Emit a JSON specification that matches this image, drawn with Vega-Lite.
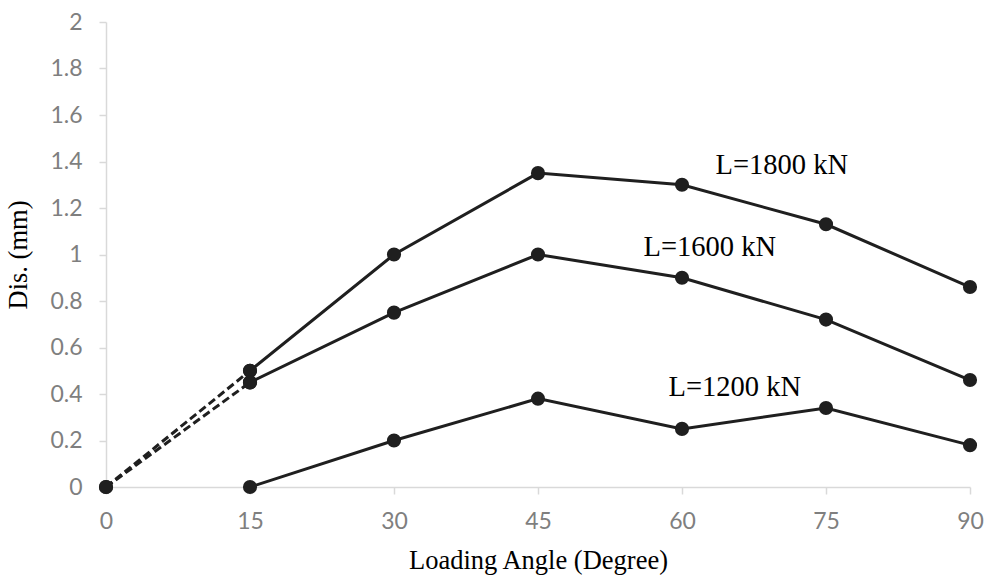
{
  "$schema": "https://vega.github.io/schema/vega-lite/v6.json",
  "width": 864,
  "height": 465,
  "autosize": "none",
  "padding": {"left": 106, "top": 22, "right": 19, "bottom": 90},
  "background": "white",
  "config": {"view": {"stroke": null}},
  "datasets": {
    "lines": [
      {"load": "1800", "part": "solid", "angle": 15, "dis": 0.5},
      {"load": "1800", "part": "solid", "angle": 30, "dis": 1.0},
      {"load": "1800", "part": "solid", "angle": 45, "dis": 1.35},
      {"load": "1800", "part": "solid", "angle": 60, "dis": 1.3},
      {"load": "1800", "part": "solid", "angle": 75, "dis": 1.13},
      {"load": "1800", "part": "solid", "angle": 90, "dis": 0.86},
      {"load": "1600", "part": "solid", "angle": 15, "dis": 0.45},
      {"load": "1600", "part": "solid", "angle": 30, "dis": 0.75},
      {"load": "1600", "part": "solid", "angle": 45, "dis": 1.0},
      {"load": "1600", "part": "solid", "angle": 60, "dis": 0.9},
      {"load": "1600", "part": "solid", "angle": 75, "dis": 0.72},
      {"load": "1600", "part": "solid", "angle": 90, "dis": 0.46},
      {"load": "1200", "part": "solid", "angle": 15, "dis": 0.0},
      {"load": "1200", "part": "solid", "angle": 30, "dis": 0.2},
      {"load": "1200", "part": "solid", "angle": 45, "dis": 0.38},
      {"load": "1200", "part": "solid", "angle": 60, "dis": 0.25},
      {"load": "1200", "part": "solid", "angle": 75, "dis": 0.34},
      {"load": "1200", "part": "solid", "angle": 90, "dis": 0.18},
      {"load": "1800", "part": "dashed", "angle": 0, "dis": 0.0},
      {"load": "1800", "part": "dashed", "angle": 15, "dis": 0.5},
      {"load": "1600", "part": "dashed", "angle": 0, "dis": 0.0},
      {"load": "1600", "part": "dashed", "angle": 15, "dis": 0.45}
    ],
    "labels": [
      {"text": "L=1800 kN", "angle": 70.4, "dis": 1.385},
      {"text": "L=1600 kN", "angle": 62.9, "dis": 1.032},
      {"text": "L=1200 kN", "angle": 65.5, "dis": 0.43}
    ]
  },
  "encoding": {
    "x": {
      "field": "angle", "type": "quantitative",
      "scale": {"domain": [0, 90], "nice": false},
      "axis": {
        "values": [0, 15, 30, 45, 60, 75, 90],
        "format": "d",
        "labelFlush": false,
        "title": "Loading Angle (Degree)",
        "grid": false,
        "domainColor": "#d9d9d9", "domainWidth": 1.5,
        "tickColor": "#d9d9d9", "tickSize": 7, "tickWidth": 1.5,
        "labelFont": "Lato", "labelFontSize": 23, "labelColor": "#7f7f7f",
        "labelPadding": 16,
        "titleFont": "Liberation Serif", "titleFontSize": 26.5, "titleFontWeight": "normal",
        "titleColor": "#000000", "titlePadding": 14
      }
    },
    "y": {
      "field": "dis", "type": "quantitative",
      "scale": {"domain": [0, 2], "nice": false},
      "axis": {
        "values": [0, 0.2, 0.4, 0.6, 0.8, 1, 1.2, 1.4, 1.6, 1.8, 2],
        "format": "~f",
        "labelFlush": false,
        "title": "Dis. (mm)",
        "grid": false,
        "domainColor": "#d9d9d9", "domainWidth": 1.5,
        "tickColor": "#d9d9d9", "tickSize": 7, "tickWidth": 1.5,
        "labelFont": "Lato", "labelFontSize": 23, "labelColor": "#7f7f7f",
        "labelPadding": 17,
        "titleFont": "Liberation Serif", "titleFontSize": 26.5, "titleFontWeight": "normal",
        "titleColor": "#000000", "titlePadding": 17
      }
    }
  },
  "layer": [
    {
      "data": {"name": "lines"},
      "transform": [{"filter": "datum.part === 'solid'"}],
      "mark": {"type": "line", "color": "#1f1f1f", "strokeWidth": 3},
      "encoding": {"detail": {"field": "load"}}
    },
    {
      "data": {"name": "lines"},
      "transform": [{"filter": "datum.part === 'dashed'"}],
      "mark": {"type": "line", "color": "#1f1f1f", "strokeWidth": 3, "strokeDash": [8, 4]},
      "encoding": {"detail": {"field": "load"}}
    },
    {
      "data": {"name": "lines"},
      "mark": {"type": "point", "filled": true, "opacity": 1, "color": "#1f1f1f", "size": 200},
      "encoding": {}
    },
    {
      "data": {"name": "labels"},
      "mark": {"type": "text", "font": "Liberation Serif", "fontSize": 28.5, "color": "#000000", "align": "center", "baseline": "middle"},
      "encoding": {"text": {"field": "text"}}
    }
  ]
}
